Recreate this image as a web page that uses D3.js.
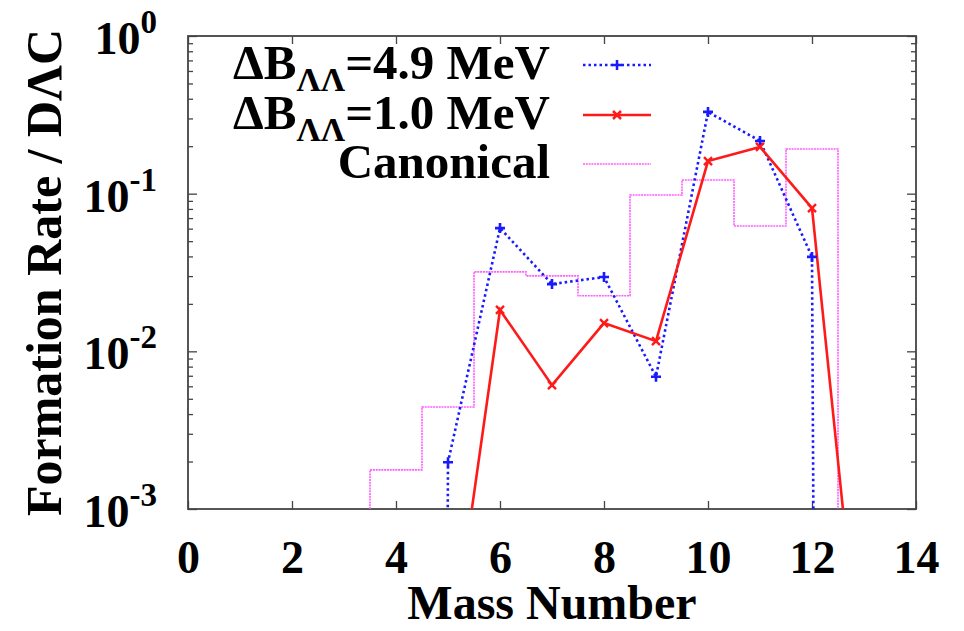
<!DOCTYPE html>
<html>
<head>
<meta charset="utf-8">
<script src="https://cdn.jsdelivr.net/npm/d3@7"></script>
<style>
  body { margin: 0; background: #fff; }
  text { font-family: "Liberation Serif", "Times New Roman", serif; font-weight: bold; fill: #000; }
</style>
</head>
<body>
<script>
// mass numbers and formation rates
// (1e-100 = effectively zero, drawn as a drop through the bottom edge)
var massA49 = [4, 5, 6, 7, 8, 9, 10, 11, 12, 13]
var rate49 = [1e-100, 0.00198, 0.0605, 0.0267, 0.0296, 0.0069, 0.33, 0.216, 0.0397, 1e-100]

var massA10 = [5, 6, 7, 8, 9, 10, 11, 12, 13]
var rate10 = [8.5e-5, 0.0183, 0.0061, 0.0151, 0.0116, 0.161, 0.198, 0.081, 5e-5]

var massCan = [4, 5, 6, 7, 8, 9, 10, 11, 12]
var rateCan = [0.00177, 0.00444, 0.0319, 0.0301, 0.0225, 0.098, 0.122, 0.0624, 0.192]

var xTicks = [0, 2, 4, 6, 8, 10, 12, 14]
var yMajor = [1e-3, 1e-2, 1e-1, 1]
var yExp = ['-3', '-2', '-1', '0']

var legendLabels = [
  {pre: 'ΔB', sub: 'ΛΛ', post: '=4.9 MeV'},
  {pre: 'ΔB', sub: 'ΛΛ', post: '=1.0 MeV'},
  {pre: '', sub: '', post: 'Canonical'}
]

var W = 964, H = 631
var pL = 188, pR = 916, pT = 36, pB = 509

var x = d3.scaleLinear().domain([0, 14]).range([pL, pR])
var y = d3.scaleLog().domain([1e-3, 1]).range([pB, pT])

var yMinor = []
for (var e = -3; e < 0; e++) {
  for (var k = 2; k < 10; k++) yMinor.push(k * Math.pow(10, e))
}

var svg = d3.select('body')
  .append('svg')
  .attr('width', W)
  .attr('height', H)

svg.append('defs').append('clipPath')
  .attr('id', 'plot')
  .append('rect')
  .attr('x', pL).attr('y', pT)
  .attr('width', pR - pL).attr('height', pB - pT)

// ticks, all pointing inwards
function tickAxis(axis, tr) {
  var g = svg.append('g').attr('transform', tr).call(axis)
  g.select('.domain').remove()
  g.selectAll('.tick line').attr('stroke', '#444').attr('stroke-width', 1.3)
  return g
}

var xb = tickAxis(d3.axisBottom(x).tickValues(xTicks).tickSize(-8).tickPadding(31), 'translate(0,' + pB + ')')
xb.selectAll('text').style('font-size', '46px').style('font-family', '"Liberation Serif", serif').style('font-weight', 'bold')
tickAxis(d3.axisTop(x).tickValues(xTicks).tickSize(-8).tickFormat(''), 'translate(0,' + pT + ')')

tickAxis(d3.axisLeft(y).tickValues(yMajor).tickSize(-9).tickFormat(''), 'translate(' + pL + ',0)')
tickAxis(d3.axisLeft(y).tickValues(yMinor).tickSize(-5).tickFormat(''), 'translate(' + pL + ',0)')
tickAxis(d3.axisRight(y).tickValues(yMajor).tickSize(-9).tickFormat(''), 'translate(' + pR + ',0)')
tickAxis(d3.axisRight(y).tickValues(yMinor).tickSize(-5).tickFormat(''), 'translate(' + pR + ',0)')

svg.append('rect')
  .attr('x', pL).attr('y', pT)
  .attr('width', pR - pL).attr('height', pB - pT)
  .attr('fill', 'none')
  .attr('stroke', '#444')
  .attr('stroke-width', 1.8)

// y tick labels 10^n
var yl = svg.selectAll('.ylab')
  .data(yMajor)
  .enter()
  .append('text')
  .attr('class', 'ylab')
  .attr('x', 157)
  .attr('y', function(d) { return y(d) + 18 })
  .attr('text-anchor', 'end')
  .style('font-size', '46px')
yl.append('tspan').text('10')
yl.append('tspan')
  .attr('dy', -21)
  .style('font-size', '33px')
  .text(function(d, i) { return yExp[i] })

// axis titles
svg.append('text')
  .attr('x', (pL + pR) / 2)
  .attr('y', 619)
  .attr('text-anchor', 'middle')
  .style('font-size', '48px')
  .text('Mass Number')

svg.append('text')
  .attr('transform', 'translate(61,' + ((pT + pB) / 2) + ') rotate(-90)')
  .attr('text-anchor', 'middle')
  .style('font-size', '50px')
  .text('Formation Rate / DΛC')

var plot = svg.append('g').attr('clip-path', 'url(#plot)')

// canonical histogram steps
var floor = y.domain()[0]
var stepPts = [[massCan[0] - 0.5, floor]]
massCan.forEach(function(a, i) { stepPts.push([a - 0.5, rateCan[i]]) })
stepPts.push([massCan[massCan.length - 1] + 0.5, rateCan[rateCan.length - 1]])
stepPts.push([massCan[massCan.length - 1] + 0.5, floor])

var stepLine = d3.line()
  .x(function(d) { return x(d[0]) })
  .y(function(d) { return y(d[1]) })
  .curve(d3.curveStepAfter)

var canColor = '#ff5cff'
plot.append('path')
  .attr('d', stepLine(stepPts))
  .attr('fill', 'none')
  .attr('stroke', canColor)
  .attr('stroke-width', 1.6)
  .attr('stroke-dasharray', '2,0.8')

var line = d3.line()
  .x(function(d) { return x(d[0]) })
  .y(function(d) { return Math.min(y(d[1]), 1e4) })

var blue = '#1a1aff', red = '#ff1a1a'

var pts49 = massA49.map(function(a, i) { return [a, rate49[i]] })
var pts10 = massA10.map(function(a, i) { return [a, rate10[i]] })

plot.append('path')
  .attr('d', line(pts49))
  .attr('fill', 'none')
  .attr('stroke', blue)
  .attr('stroke-width', 2.6)
  .attr('stroke-dasharray', '2.5,3')

plot.append('path')
  .attr('d', line(pts10))
  .attr('fill', 'none')
  .attr('stroke', red)
  .attr('stroke-width', 2.6)

var plusPath = 'M-5,0H5M0,-5V5'
var crossPath = 'M-4,-4L4,4M-4,4L4,-4'

plot.selectAll('.p49')
  .data(pts49)
  .enter()
  .append('path')
  .attr('class', 'p49')
  .attr('transform', function(d) { return 'translate(' + x(d[0]) + ',' + Math.min(y(d[1]), 1e4) + ')' })
  .attr('d', plusPath)
  .attr('stroke', blue)
  .attr('stroke-width', 2.6)

plot.selectAll('.p10')
  .data(pts10)
  .enter()
  .append('path')
  .attr('class', 'p10')
  .attr('transform', function(d) { return 'translate(' + x(d[0]) + ',' + y(d[1]) + ')' })
  .attr('d', crossPath)
  .attr('stroke', red)
  .attr('stroke-width', 2.4)

// legend
var legY = [65, 115, 164]
var legStyle = [
  {color: blue, dash: '2.5,3', w: 2.6, mark: plusPath},
  {color: red, dash: null, w: 2.6, mark: crossPath},
  {color: canColor, dash: '2,0.8', w: 1.6, mark: null}
]

var leg = svg.selectAll('.leg')
  .data(legendLabels)
  .enter()
  .append('g')
  .attr('class', 'leg')
  .attr('transform', function(d, i) { return 'translate(0,' + legY[i] + ')' })

var lt = leg.append('text')
  .attr('x', 550)
  .attr('y', 14)
  .attr('text-anchor', 'end')
  .style('font-size', '49px')
lt.append('tspan').text(function(d) { return d.pre })
lt.append('tspan')
  .attr('dy', function(d) { return d.sub ? 12 : 0 })
  .style('font-size', '34px')
  .text(function(d) { return d.sub })
lt.append('tspan')
  .attr('dy', function(d) { return d.sub ? -12 : 0 })
  .text(function(d) { return d.post })

leg.append('line')
  .attr('x1', 583).attr('x2', 651)
  .attr('stroke', function(d, i) { return legStyle[i].color })
  .attr('stroke-width', function(d, i) { return legStyle[i].w })
  .attr('stroke-dasharray', function(d, i) { return legStyle[i].dash })

leg.filter(function(d, i) { return legStyle[i].mark })
  .append('path')
  .attr('transform', 'translate(617,0)')
  .attr('d', function(d) { return legStyle[legendLabels.indexOf(d)].mark })
  .attr('stroke', function(d) { return legStyle[legendLabels.indexOf(d)].color })
  .attr('stroke-width', 2.5)
</script>
</body>
</html>
